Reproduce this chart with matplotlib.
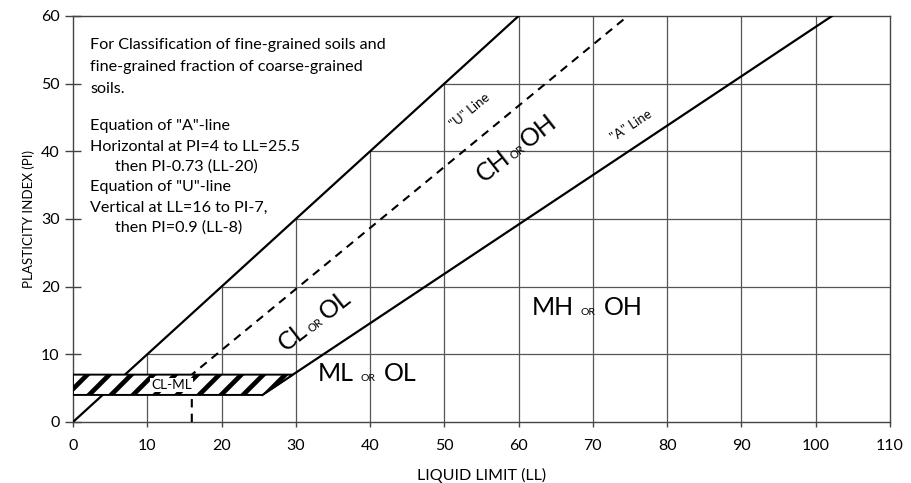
"""
Plasticity chart (Casagrande) - fine grained soil classification
"""

import numpy as np
import matplotlib
matplotlib.use("Agg")
import matplotlib.pyplot as plt
from matplotlib.transforms import ScaledTranslation
from matplotlib.patches import Polygon

# low dpi so the hatch stripes of the CL-ML band come out wide apart;
# every size below is given at 100 dpi and scaled with S
DPI = 66
S = 100 / DPI

plt.rcParams['font.family'] = ['Lato', 'DejaVu Sans']
plt.rcParams['hatch.linewidth'] = 3.4 * S
plt.rcParams['hatch.color'] = 'black'

# chart data
ll_ticks = [0, 10, 20, 30, 40, 50, 60, 70, 80, 90, 100, 110]
pi_ticks = [0, 10, 20, 30, 40, 50, 60]

limit_ll = [0, 60]          # PI = LL upper limit
limit_pi = [0, 60]
a_line_ll = [25.5, 102.2]   # PI = 0.73 (LL-20)
a_line_pi = [4, 60]
u_line_ll = [16, 16, 74.7]  # vertical at LL=16 to PI=7, then PI = 0.9 (LL-8)
u_line_pi = [0, 7, 60]
band_ll = [0, 25.5, 29.6, 0]   # CL-ML zone
band_pi = [4, 4, 7, 7]

note_lines = ["For Classification of fine-grained soils and",
              "fine-grained fraction of coarse-grained",
              "soils."]
eq_lines = ['Equation of "A"-line',
            'Horizontal at PI=4 to LL=25.5',
            'then PI-0.73 (LL-20)',
            'Equation of "U"-line',
            'Vertical at LL=16 to PI-7,',
            'then PI=0.9 (LL-8)']
eq_indent = [0, 0, 1, 0, 0, 1]

# sets up plot
fig = plt.figure(figsize=(911 / DPI, 483 / DPI), dpi=DPI)
ax = fig.add_axes([0.0801, 0.1263, 0.8968, 0.8406])
ax.set_xlim(ll_ticks[0], ll_ticks[-1])
ax.set_ylim(pi_ticks[0], pi_ticks[-1])

grid_kw = dict(color='#555555', lw=0.9*S, zorder=1)
# grid only below the PI=LL line
for p in pi_ticks[1:-1]:
    ax.plot([p, ll_ticks[-1]], [p, p], **grid_kw)
for l in ll_ticks[1:-1]:
    ax.plot([l, l], [0, min(l, pi_ticks[-1])], **grid_kw)

for s in ax.spines.values():
    s.set_color('#444444')
    s.set_linewidth(1.0*S)

ax.plot(limit_ll, limit_pi, color='black', lw=1.6*S, zorder=3)
ax.plot(a_line_ll, a_line_pi, color='black', lw=1.6*S, zorder=3)
ax.plot(u_line_ll, u_line_pi, color='black', lw=1.5*S, ls=(0, (4, 3)), zorder=3)

band = Polygon(np.column_stack([band_ll, band_pi]), closed=True, facecolor='white',
               edgecolor='black', lw=1.4*S, hatch='/', zorder=4)
ax.add_patch(band)
ax.text(13.3, 5.5, "CL-ML", fontsize=9.8*S, ha='center', va='center', zorder=5,
        bbox=dict(facecolor='white', edgecolor='none', pad=0.8*S))

# ticks and labels
ax.set_xticks(ll_ticks)
ax.set_yticks(pi_ticks)
ax.tick_params(axis='y', direction='inout', length=11*S, width=1.0*S, pad=4*S,
               labelsize=11.5*S, color='#444444')
ax.tick_params(axis='x', direction='out', length=3.5*S, width=1.0*S, pad=9*S,
               labelsize=11.5*S, color='#444444')
ax.set_xlabel("LIQUID LIMIT (LL)", fontsize=11.5*S, labelpad=10.5*S)
ax.set_ylabel("PLASTICITY INDEX (PI)", fontsize=9.6*S, labelpad=4*S)

# notes
for i, s in enumerate(note_lines):
    ax.text(2.3, 55.05 - i*3.18, s, fontsize=11.6*S, ha='left', va='baseline')
for i, s in enumerate(eq_lines):
    ax.text(2.3 + 3.35*eq_indent[i], 43.1 - i*3.0, s, fontsize=11.6*S,
            ha='left', va='baseline')

# line labels
ax.text(53.4, 46.0, '"U" Line', fontsize=9.5*S, ha='center', va='center',
        rotation=np.degrees(np.arctan(0.9)), transform_rotates_text=True,
        rotation_mode='anchor')
ax.text(75.2, 43.8, '"A" Line', fontsize=9.5*S, ha='center', va='center',
        rotation=np.degrees(np.arctan(0.73)), transform_rotates_text=True,
        rotation_mode='anchor')

renderer = fig.canvas.get_renderer()


def zone_label(x, y, parts, angle=0, gaps=(2, 2)):
    # writes pieces of different sizes one after the other along angle
    ca, sa = np.cos(np.radians(angle)), np.sin(np.radians(angle))
    shift = 0.0
    for i, (s, size) in enumerate(parts):
        tr = ax.transData + ScaledTranslation(shift*ca, shift*sa, fig.dpi_scale_trans)
        t = ax.text(x, y, s, fontsize=size*S, ha='left', va='baseline',
                    transform=tr, zorder=5)
        w = t.get_window_extent(renderer).width / fig.dpi
        t.set_rotation(angle)
        t.set_rotation_mode('anchor')
        if i < len(gaps):
            shift += w + gaps[i]*S / 72
        else:
            shift += w


zone_label(33.0, 6.0, [("ML", 18), ("OR", 7.5), ("OL", 18)], gaps=(4.5, 6))
zone_label(61.8, 15.8, [("MH", 18), ("OR", 7.5), ("OH", 18)], gaps=(4.5, 6))
zone_label(28.7, 10.3, [("CL", 18), ("OR", 8), ("OL", 18)], angle=38, gaps=(1.5, 3))
zone_label(55.3, 35.3, [("CH", 18), ("OR", 8), ("OH", 18)], angle=38, gaps=(1.5, 1.5))

fig.savefig("out.png", dpi=DPI)
